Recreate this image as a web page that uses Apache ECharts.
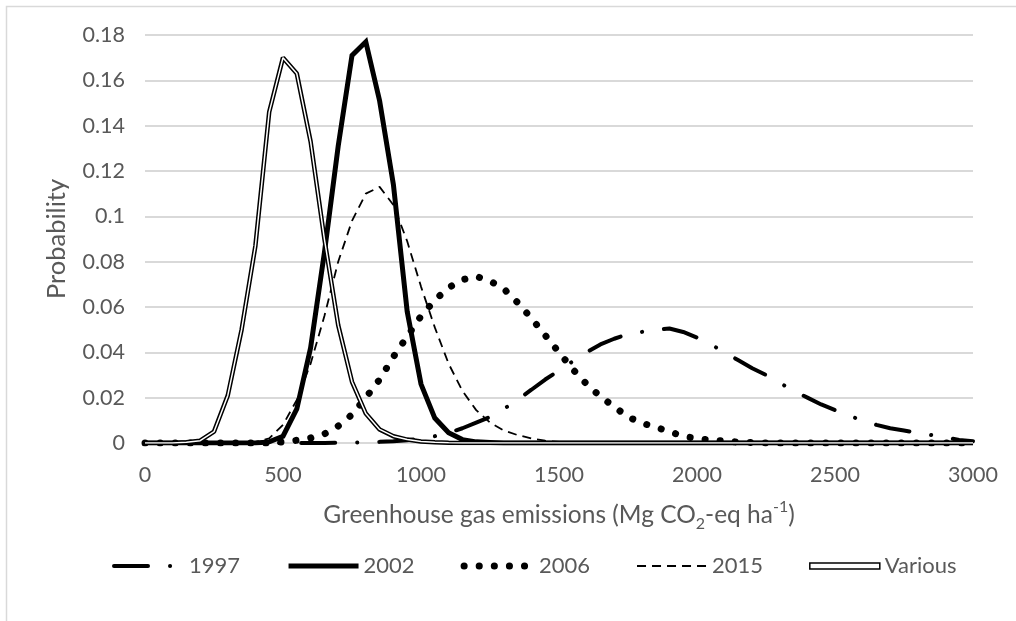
<!DOCTYPE html>
<html>
<head>
<meta charset="utf-8">
<script src="https://cdn.jsdelivr.net/npm/echarts@6/dist/echarts.min.js"></script>
<style>
html,body{margin:0;padding:0;background:#fff;}
#chart{width:1016px;height:621px;}
</style>
</head>
<body>
<div id="chart"></div>
<script>
// x positions (Mg CO2-eq ha-1)
const xValues = [0,50,100,150,200,250,300,350,400,450,500,550,600,650,700,750,800,850,900,950,
  1000,1050,1100,1150,1200,1250,1300,1350,1400,1450,1500,1550,1600,1650,1700,1750,1800,1850,1900,1950,
  2000,2050,2100,2150,2200,2250,2300,2350,2400,2450,2500,2550,2600,2650,2700,2750,2800,2850,2900,2950,3000];

const y1997 = [0,0,0,0,0,0,0,0,0,0,0,0,0,0,
  0.0001,0.0002,0.0003,0.0005,0.0008,0.0012,0.002,0.003,0.0045,0.0065,0.009,0.0115,0.015,0.019,0.0235,0.028,
  0.032,0.036,0.040,0.0435,0.046,0.048,0.049,0.050,0.0505,0.049,0.0465,0.0435,0.040,0.0365,0.033,0.030,
  0.0265,0.023,0.020,0.017,0.0145,0.012,0.010,0.008,0.0065,0.0055,0.0045,0.0035,0.0025,0.0013,0.0008];

const y2002 = [0,0,0,0,0,0,0,0,0,
  0.0005,0.003,0.015,0.042,0.084,0.131,0.171,0.177,0.151,0.114,0.058,0.026,0.011,0.0045,0.0015,0.0005,0.0002,
  0,0,0,0,0,0,0,0,0,0,0,0,0,0,0,0,0,0,0,0,0,0,0,0,0,0,0,0,0,0,0,0,0,0,0];

const y2006 = [0,0,0,0,0,0,0,0,0,0,
  0.0005,0.0012,0.0022,0.004,0.0075,0.0125,0.020,0.028,0.038,0.047,0.056,0.063,0.0685,0.072,0.0735,0.0715,
  0.068,0.062,0.055,0.0475,0.040,0.0325,0.026,0.0205,0.016,0.0115,0.0088,0.007,0.005,0.003,0.002,0.0013,
  0.0008,0.0004,0.0002,
  0,0,0,0,0,0,0,0,0,0,0,0,0,0,0,0];

const y2015 = [0,0,0,0,0,0,0,0,
  0.0005,0.002,0.008,0.019,0.035,0.056,0.080,0.098,0.110,0.113,0.105,0.089,0.069,0.051,0.035,0.023,0.0145,
  0.009,0.0055,0.0035,0.002,0.001,0.0005,0.0002,
  0,0,0,0,0,0,0,0,0,0,0,0,0,0,0,0,0,0,0,0,0,0,0,0,0,0,0,0,0];

const yVarious = [0,0,0,0.0003,0.001,0.005,0.021,0.05,0.087,0.146,0.170,0.163,0.133,0.090,0.052,0.027,
  0.013,0.006,0.003,0.0015,0.0007,0.0003,0.0001,
  0,0,0,0,0,0,0,0,0,0,0,0,0,0,0,0,0,0,0,0,0,0,0,0,0,0,0,0,0,0,0,0,0,0,0,0,0,0,0,0];

const seriesNames = ['1997','2002','2006','2015','Various'];
const xTicks = [0,500,1000,1500,2000,2500,3000];
const yTicks = [0,0.02,0.04,0.06,0.08,0.1,0.12,0.14,0.16,0.18];

function pairs(ys){ return xValues.map((x,i)=>[x, ys[i]]); }

const FONT = 'Lato';
const GREY = '#595959';

const style1997 = {color:'#000',width:4,type:[34,22,0.1,22],cap:'round'};
const style2002 = {color:'#000',width:5,join:'miter'};
const style2006 = {color:'#000',width:7,type:[0.1,15],cap:'round'};
const style2015 = {color:'#000',width:1.8,type:[9,6]};

const chart = echarts.init(document.getElementById('chart'), null, {renderer:'canvas'});
chart.setOption({
  backgroundColor:'#fff',
  animation:false,
  graphic:[{
    type:'rect', shape:{x:6.5,y:6.5,width:1100,height:700},
    style:{fill:'none',stroke:'#d9d9d9',lineWidth:1.5}, silent:true, z:-10
  }],
  grid:{left:145,right:43,top:35,bottom:178},
  legend:{
    data:[
      {name:seriesNames[0], lineStyle:{width:4,type:[34,22,0.1,22],cap:'round',color:'#000'}},
      {name:seriesNames[1], lineStyle:{width:5,color:'#000'}},
      {name:seriesNames[2], lineStyle:{width:7,type:[0.1,15],cap:'round',color:'#000'}},
      {name:seriesNames[3], lineStyle:{width:1.8,type:[9,6],color:'#000'}},
      {name:seriesNames[4], icon:'path://M0,0H70V6H0Z', itemStyle:{color:'#fff',borderColor:'#000',borderWidth:1.5,opacity:1}}],
    left:107, top:550, itemWidth:70, itemHeight:14, itemGap:46,
    itemStyle:{opacity:0},
    textStyle:{fontFamily:FONT,fontSize:22,color:GREY}
  },
  xAxis:{
    type:'value', min:xTicks[0], max:xTicks[xTicks.length-1], interval:500,
    name:'{a|Greenhouse gas emissions (Mg CO}{s|2}{a|-eq ha}{p|-1}{a|)}',
    nameLocation:'middle', nameGap:54,
    nameTextStyle:{fontFamily:FONT,color:GREY,fontSize:24.5,
      rich:{
        a:{fontFamily:FONT,color:GREY,fontSize:24.5,lineHeight:31,verticalAlign:'bottom'},
        s:{fontFamily:FONT,color:GREY,fontSize:16,lineHeight:31,verticalAlign:'bottom',padding:[0,0,-4,0]},
        p:{fontFamily:FONT,color:GREY,fontSize:16,lineHeight:31,verticalAlign:'top',padding:[2,0,0,0]}
      }},
    axisLine:{show:true,lineStyle:{color:'#d9d9d9',width:2}},
    axisTick:{show:false},
    splitLine:{show:false},
    axisLabel:{fontFamily:FONT,fontSize:21.5,color:GREY,margin:21,formatter:(v)=>String(v)}
  },
  yAxis:{
    type:'value', min:yTicks[0], max:yTicks[yTicks.length-1], interval:0.02,
    name:'Probability', nameLocation:'middle', nameGap:75, nameRotate:90,
    nameTextStyle:{fontFamily:FONT,fontSize:25.5,color:GREY},
    axisLine:{show:false}, axisTick:{show:false},
    splitLine:{show:true,lineStyle:{color:'#d9d9d9',width:2}},
    axisLabel:{fontFamily:FONT,fontSize:21.5,color:GREY,margin:20}
  },
  series:[
    {name:seriesNames[0],type:'line',symbol:'none',data:pairs(y1997),lineStyle:style1997,itemStyle:{color:'#000'}},
    {name:seriesNames[1],type:'line',symbol:'none',data:pairs(y2002),lineStyle:style2002,itemStyle:{color:'#000'}},
    {name:seriesNames[2],type:'line',symbol:'none',data:pairs(y2006),lineStyle:style2006,itemStyle:{color:'#000'}},
    {name:seriesNames[3],type:'line',symbol:'none',data:pairs(y2015),lineStyle:style2015,itemStyle:{color:'#000'}},
    {name:seriesNames[4],type:'line',symbol:'none',data:pairs(yVarious),
      lineStyle:{color:'#000',width:4.5},itemStyle:{color:'#000'}},
    {name:'Various-inner',type:'line',symbol:'none',data:pairs(yVarious),
      lineStyle:{color:'#fff',width:1.5},itemStyle:{color:'#fff'}}
  ]
});
</script>
</body>
</html>
